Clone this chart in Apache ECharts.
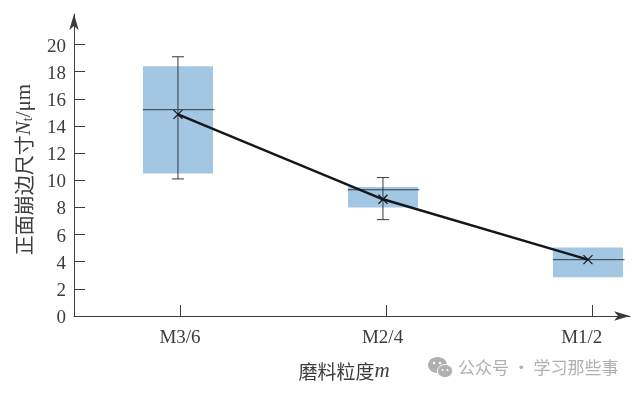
<!DOCTYPE html>
<html><head><meta charset="utf-8">
<style>html,body{margin:0;padding:0;background:#fff}#c{width:640px;height:393px}</style>
<script src="https://cdn.jsdelivr.net/npm/echarts@6/dist/echarts.min.js"></script>
</head><body><div id="c"></div>
<script>
const categories = ['M3/6','M2/4','M1/2'];
const tickX = [0,1,2];
const labelX = [0,0.983,1.95];
const dataX = [-0.01,0.985,1.98];
const boxTop = [18.4,9.5,5.05];
const boxBottom = [10.5,8.0,2.85];
const medians = [15.2,9.3,4.15];
const whiskerTop = [19.1,10.2,null];
const whiskerBottom = [10.1,7.1,null];
const means = [14.85,8.6,4.15];
const yTicks = [0,2,4,6,8,10,12,14,16,18,20];
const serif = '"Liberation Serif","Noto Sans CJK SC",serif';
const cjk = '"Noto Sans CJK SC",serif';
const ink = '#3c3c3c';

const boxData = categories.map((c,i)=>[dataX[i],boxTop[i],boxBottom[i],medians[i],whiskerTop[i],whiskerBottom[i]]);

const chart = echarts.init(document.getElementById('c'),null,{renderer:'canvas'});
chart.setOption({
  animation:false,
  backgroundColor:'#fff',
  grid:{left:74,top:14,width:556,height:302,containLabel:false,outerBoundsMode:'none'},
  xAxis:{type:'value',min:-0.5146,max:2.184,splitLine:{show:false},
    axisLine:{show:true,onZero:false,symbol:['none','arrow'],symbolSize:[7,16],lineStyle:{color:ink,width:1}},
    axisTick:{show:true,inside:true,length:11,customValues:tickX,lineStyle:{color:ink,width:1}},
    axisLabel:{show:true,customValues:labelX,margin:13,fontFamily:serif,fontSize:19,color:ink,
      formatter:v=>categories[labelX.findIndex(x=>Math.abs(x-v)<1e-6)]||''},
    name:'{c|磨料粒度}{i|m}',nameLocation:'middle',nameGap:45,
    nameTextStyle:{padding:[0,16,0,0],rich:{c:{fontFamily:cjk,fontSize:19,color:ink},i:{fontFamily:serif,fontStyle:'italic',fontSize:21,color:ink}}}
  },
  yAxis:{type:'value',min:0,max:22.25,splitLine:{show:false},
    axisLine:{show:true,onZero:false,symbol:['none','arrow'],symbolSize:[7,16],lineStyle:{color:ink,width:1}},
    axisTick:{show:true,inside:true,length:11,customValues:yTicks,lineStyle:{color:ink,width:1}},
    axisLabel:{margin:8,customValues:yTicks,verticalAlign:'top',lineHeight:4,fontFamily:serif,fontSize:19,color:ink},
    name:'{c|正面崩边尺寸}{i|N}{s|t}{r|/μm}',nameLocation:'middle',nameGap:39,nameRotate:90,
    nameTextStyle:{padding:[0,9,0,0],rich:{c:{fontFamily:cjk,fontSize:20,color:ink},i:{fontFamily:serif,fontStyle:'italic',fontSize:21,color:ink},
      s:{fontFamily:serif,fontSize:14,color:ink,verticalAlign:'bottom',padding:[6,0,0,0]},r:{fontFamily:serif,fontSize:21,color:ink}}}
  },
  series:[
    {type:'custom',data:boxData,silent:true,z:2,clip:false,
     renderItem(p,api){
       const x=api.value(0);
       const top=api.coord([x,api.value(1)]), bot=api.coord([x,api.value(2)]), med=api.coord([x,api.value(3)]);
       const hw=35;
       const kids=[
        {type:'rect',shape:{x:top[0]-hw,y:top[1],width:hw*2,height:bot[1]-top[1]},style:{fill:'#a3c6e3'}},
        {type:'line',shape:{x1:top[0]-hw,y1:med[1],x2:top[0]+hw+1.5,y2:med[1]},style:{stroke:'#2f3a44',lineWidth:1}}
       ];
       const wt=api.value(4), wb=api.value(5);
       if(!isNaN(wt)&&!isNaN(wb)){
         const a=api.coord([x,wt]), b=api.coord([x,wb]);
         kids.push({type:'line',shape:{x1:a[0],y1:a[1],x2:b[0],y2:b[1]},style:{stroke:'#2f3a44',lineWidth:1}});
         [a,b].forEach(q=>kids.push({type:'line',shape:{x1:q[0]-6,y1:q[1],x2:q[0]+6,y2:q[1]},style:{stroke:'#2f3a44',lineWidth:1}}));
       }
       return {type:'group',children:kids};
     }},
    {type:'line',data:means.map((m,i)=>[dataX[i],m]),z:5,silent:true,symbol:'path://M-1,-1L1,1M1,-1L-1,1',symbolSize:9,
     showSymbol:true,lineStyle:{color:'#15171a',width:2.4},
     itemStyle:{color:'none',borderColor:'#15171a',borderWidth:1.2}}
  ],
  graphic:[
    {type:'group',left:428,top:357,silent:true,children:[
      {type:'ellipse',shape:{cx:9.5,cy:8,rx:9.5,ry:8},style:{fill:'#b0b0b0'}},
      {type:'ellipse',shape:{cx:17,cy:14,rx:7.5,ry:6.5},style:{fill:'#b0b0b0',stroke:'#fff',lineWidth:1}},
      {type:'circle',shape:{cx:6,cy:6,r:1.2},style:{fill:'#fff'}},
      {type:'circle',shape:{cx:12,cy:6,r:1.2},style:{fill:'#fff'}},
      {type:'circle',shape:{cx:14.5,cy:13,r:1},style:{fill:'#fff'}},
      {type:'circle',shape:{cx:19.5,cy:13,r:1},style:{fill:'#fff'}}
    ]},
    {type:'text',left:458,top:359,silent:true,style:{text:'公众号 · 学习那些事',fill:'#b0b0b0',font:'17px "Noto Sans CJK SC"'}}
  ]
});
</script></body></html>
